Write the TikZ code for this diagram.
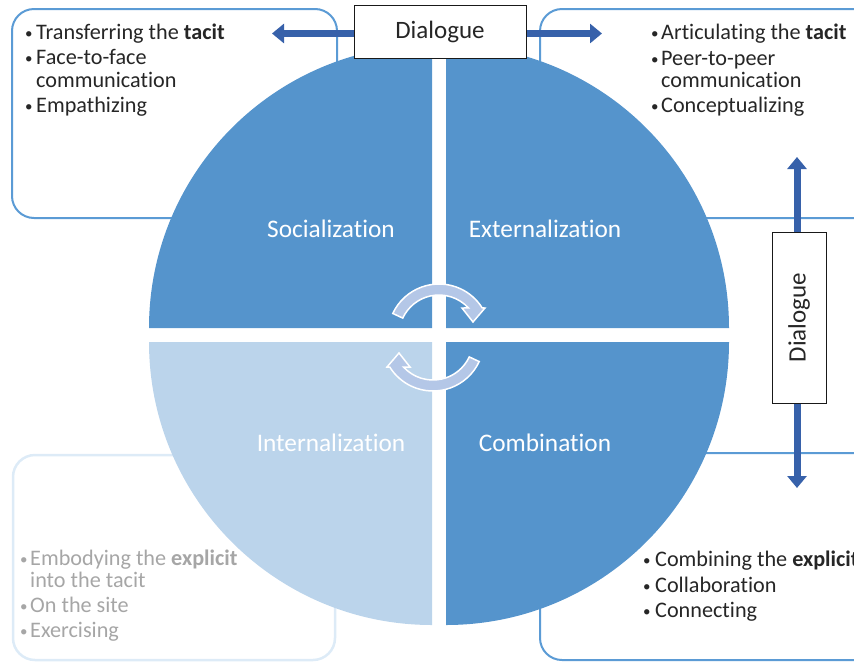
\documentclass[tikz,border=0pt]{standalone}
\usepackage{fontspec}
\setmainfont{Carlito}[Ligatures=NoCommon]
\usetikzlibrary{arrows.meta}
\definecolor{qblue}{HTML}{5594CC}
\definecolor{qlight}{HTML}{BBD4EB}
\definecolor{cyc}{HTML}{B4C7E7}
\definecolor{bstroke}{HTML}{5B9BD5}
\definecolor{bstrokelight}{HTML}{DDEBF7}
\definecolor{darrow}{HTML}{3761AA}
\definecolor{txt}{HTML}{262626}
\definecolor{graytxt}{HTML}{A6A6A6}
\newcommand\mybul[1]{\makebox[#1][l]{\hspace*{1pt}\raisebox{0.5pt}{\fontsize{15}{15}\selectfont\textbullet}}}
\newcommand\myind[1]{\hspace*{#1}}
\begin{document}
\begin{tikzpicture}[x=1pt,y=-1pt,
  cornerbox/.style={draw=bstroke, line width=2pt, rounded corners=22pt},
  lightbox/.style={draw=bstrokelight, line width=2.5pt, rounded corners=22pt},
  item/.style={anchor=base west, inner sep=0pt, font=\fontsize{22.2}{26}\selectfont, text=txt},
  grayitem/.style={item, text=graytxt},
  qlabel/.style={anchor=base, inner sep=0pt, text=white, font=\fontsize{25.3}{30}\selectfont},
  dlgbox/.style={draw=black!90, fill=white, line width=1pt, inner sep=0pt, font=\fontsize{25}{30}\selectfont, text=txt},
  dlgarrow/.style={draw=darrow, line width=7pt, -{Triangle[width=19pt,length=12pt]}},
  cycarrow/.style={fill=cyc, draw=white, line width=1.5pt, line join=miter},
]
\useasboundingbox (0,0) rectangle (854,662);
\clip (0,0) rectangle (854,662);

% corner boxes
\draw[cornerbox] (12,9) rectangle (337,218);
\draw[cornerbox] (540,9) rectangle (880,218);
\draw[lightbox] (13,455) rectangle (335,660);
\draw[cornerbox] (540,453) rectangle (880,660);

% quarters
\fill[qblue] (432,328) -- ++(180:283pt) arc[start angle=180,end angle=90,radius=283pt] -- cycle;
\fill[qblue] (446,328) -- ++(0:283pt) arc[start angle=0,end angle=90,radius=283pt] -- cycle;
\fill[qlight] (432,342) -- ++(180:283pt) arc[start angle=180,end angle=270,radius=283pt] -- cycle;
\fill[qblue] (446,342) -- ++(0:283pt) arc[start angle=0,end angle=-90,radius=283pt] -- cycle;

% quarter labels
\node[qlabel] (soc) at (331,237) {Socialization};
\node[qlabel] (ext) at (545,237) {Externalization};
\node[qlabel] (int) at (331,451) {Internalization};
\node[qlabel] (com) at (545,451) {Combination};

% cycle arrows
\begin{scope}[shift={(439,335)}]
\path[cycarrow] (155:51pt) arc[start angle=155,end angle=32,radius=51pt]
  -- (46pt,27pt) -- (34pt,13pt) -- (23pt,27pt) -- (42.5:40pt)
  arc[start angle=42.5,end angle=155,radius=40pt] -- cycle;
\end{scope}
\begin{scope}[shift={(433,340)},rotate=180]
\path[cycarrow] (155:51pt) arc[start angle=155,end angle=32,radius=51pt]
  -- (46pt,27pt) -- (34pt,13pt) -- (23pt,27pt) -- (42.5:40pt)
  arc[start angle=42.5,end angle=155,radius=40pt] -- cycle;
\end{scope}

% box texts
\node[item] (tl1) at (24,39) {\mybul{12pt}Transferring the \textbf{tacit}};
\node[item] (tl2) at (24,64) {\mybul{12pt}Face-to-face};
\node[item] (tl3) at (24,87) {\myind{12pt}communication};
\node[item] (tl4) at (24,112) {\mybul{12pt}Empathizing};

\node[item] (tr1) at (650,39) {\mybul{11pt}Articulating the \textbf{tacit}};
\node[item] (tr2) at (650,65) {\mybul{11pt}Peer-to-peer};
\node[item] (tr3) at (650,87) {\myind{11pt}communication};
\node[item] (tr4) at (650,112) {\mybul{11pt}Conceptualizing};

\node[item] (br1) at (642,566) {\mybul{13pt}Combining the \textbf{explicit}};
\node[item] (br2) at (642,592) {\mybul{13pt}Collaboration};
\node[item] (br3) at (642,617) {\mybul{13pt}Connecting};

\node[grayitem] (bl1) at (19,565) {\mybul{11pt}Embodying the \textbf{explicit}};
\node[grayitem] (bl2) at (19,587) {\myind{11pt}into the tacit};
\node[grayitem] (bl3) at (19,612) {\mybul{11pt}On the site};
\node[grayitem] (bl4) at (19,637) {\mybul{11pt}Exercising};

% dialogue boxes
\node[dlgbox, minimum width=172pt, minimum height=53pt] (dtop) at (440,31.5) {Dialogue};
\node[dlgbox, minimum width=54pt, minimum height=171pt] (dright) at (799,317.5) {\rotatebox{90}{Dialogue}};

\coordinate (ltip) at (272,33.5);
\coordinate (rtip) at (602,33.5);
\coordinate (utip) at (797,157);
\coordinate (dtip) at (797,488);
\draw[dlgarrow] (dtop.west |- ltip) -- (ltip);
\draw[dlgarrow] (dtop.east |- rtip) -- (rtip);
\draw[dlgarrow] (dright.north -| utip) -- (utip);
\draw[dlgarrow] (dright.south -| dtip) -- (dtip);
\end{tikzpicture}
\end{document}
